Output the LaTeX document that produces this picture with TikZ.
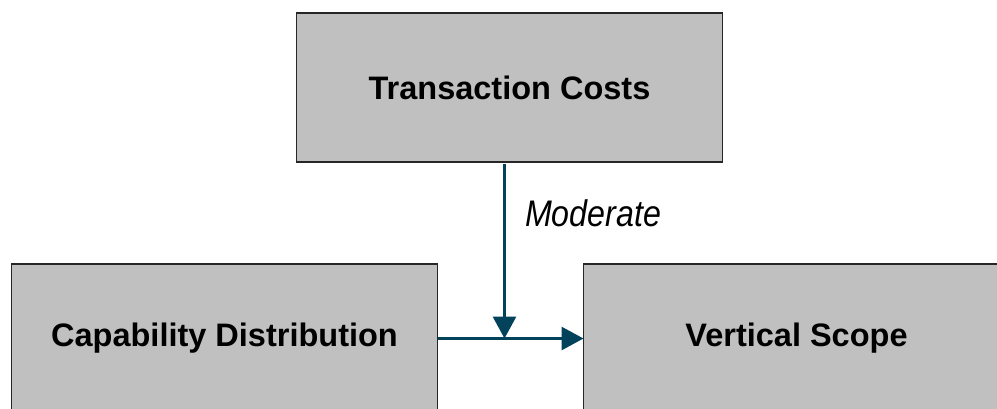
\documentclass[tikz,border=0pt]{standalone}
\usepackage{fontspec}
\setmainfont{Liberation Sans}
\usepackage{graphicx}
\usepackage{xcolor}
\usepackage{tikz}
\usetikzlibrary{arrows.meta,positioning}

\definecolor{boxgray}{HTML}{C0C0C0}
\definecolor{flowteal}{HTML}{02435B}

\begin{document}
\begin{tikzpicture}[
    x=1pt, y=-1pt,
    node distance=146pt,
    box/.style={draw=black!85, line width=1.3pt, fill=boxgray, minimum width=426pt, minimum height=149pt, outer sep=0pt, align=center, font=\fontsize{32.5}{39}\selectfont\bfseries},
    arrow/.style={-{Triangle[length=22pt, width=23pt]}, line width=3pt, draw=flowteal},
    effect/.style={inner sep=0pt, font=\fontsize{37}{44}\selectfont\itshape}
  ]
    \useasboundingbox (0,0) rectangle (997,408);
    \clip (0,0) rectangle (997,408);

    \node[box] (costs) at (509.5,87.5) {Transaction Costs};
    \node[box] (capability) at (224.5,338.5) {Capability Distribution};
    \node[box, right=of capability] (scope) {Vertical Scope};

    \coordinate (join) at ([xshift=67pt]capability.east);

    \draw[arrow] (capability.east) -- (scope.west);
    \draw[arrow] ([yshift=-2pt]costs.south -| join) -- node[effect, pos=0.28, anchor=west, xshift=19pt] {\scalebox{0.87}[1]{Moderate}} (join);
  \end{tikzpicture}
\end{document}
